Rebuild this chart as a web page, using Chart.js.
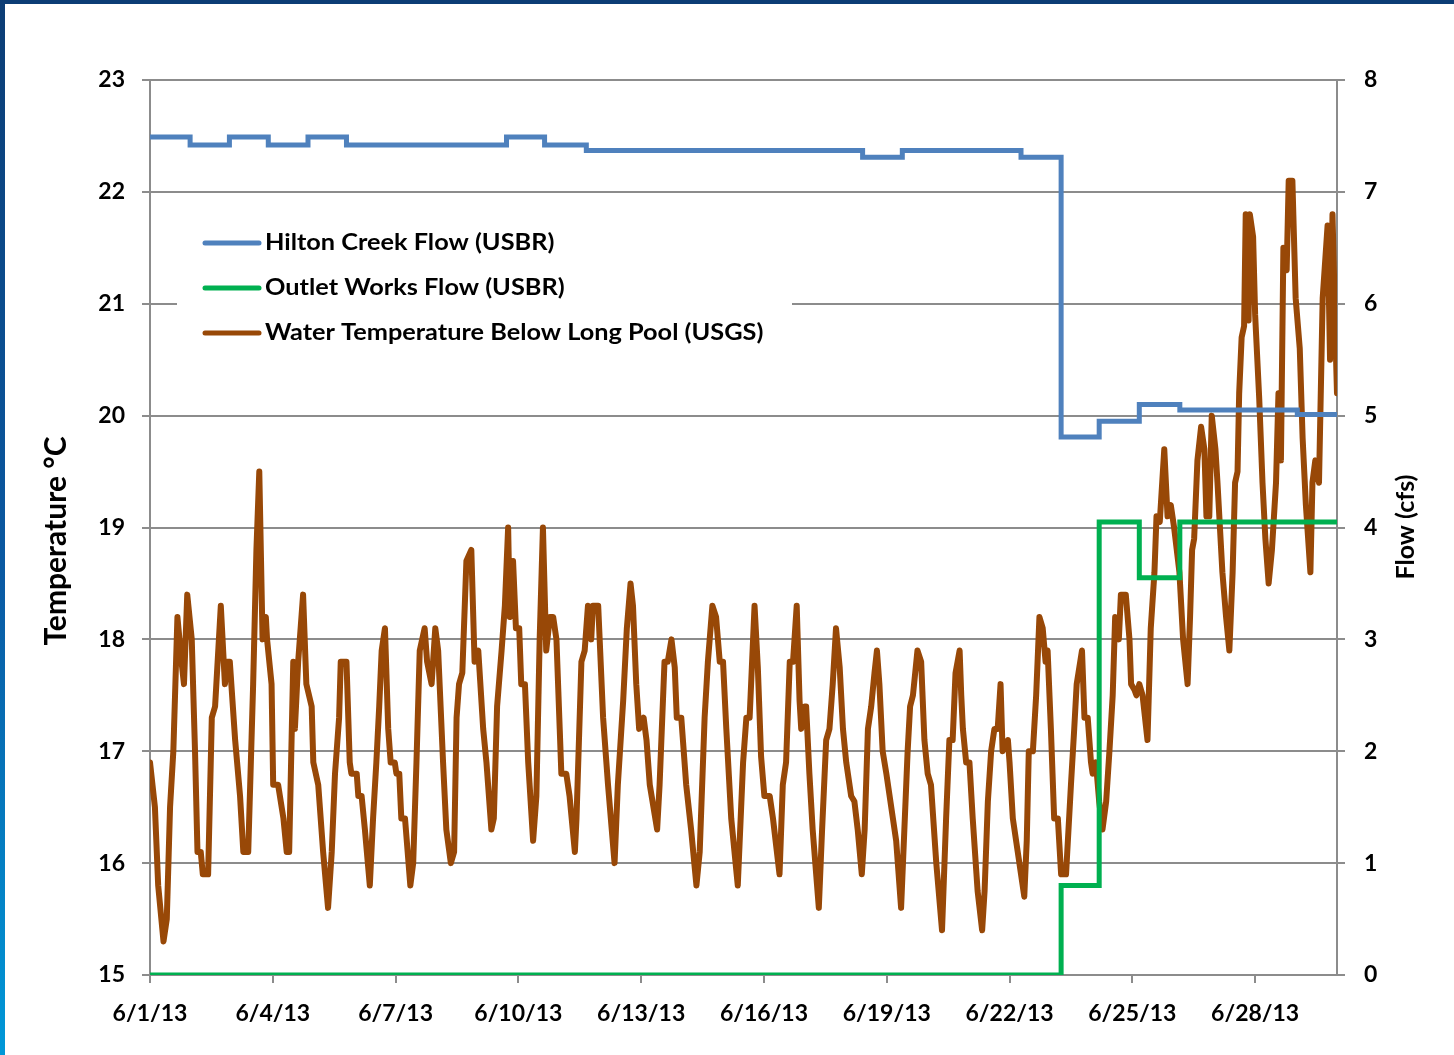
<!DOCTYPE html>
<html>
<head>
<meta charset="utf-8">
<title>Hilton Creek Flow and Water Temperature, June 2013</title>
<script src="https://cdn.jsdelivr.net/npm/chart.js@4.4.0/dist/chart.umd.min.js"></script>
<style>
  html, body { margin: 0; padding: 0; background: #fff; }
  #wrap { position: relative; width: 1454px; height: 1055px; overflow: hidden; }
  #chart1 { position: absolute; left: 0; top: 0; }
  #topbar { position: absolute; left: 0; top: 0; width: 1454px; height: 4px; background: #0c3d75; }
  #leftbar { position: absolute; left: 0; top: 0; width: 5px; height: 1055px;
             background: linear-gradient(to bottom, #0c3d75 0%, #0a5aa3 55%, #0098d8 100%); }
</style>
</head>
<body>
<div id="wrap">
  <canvas id="chart1" width="1454" height="1055"></canvas>
  <div id="topbar"></div>
  <div id="leftbar"></div>
</div>
<script>
// x values are days after 6/1/13 00:00
const xTickDays = [0, 3, 6, 9, 12, 15, 18, 21, 24, 27];
const xTickLabels = ['6/1/13', '6/4/13', '6/7/13', '6/10/13', '6/13/13', '6/16/13', '6/19/13', '6/22/13', '6/25/13', '6/28/13'];

// Hilton Creek Flow (USBR), cfs - value holds until the next change
const hiltonFlow = [
    [0.00, 7.49], [0.98, 7.42], [1.94, 7.49], [2.89, 7.42], [3.86, 7.49], [4.80, 7.42],
    [8.71, 7.49], [9.64, 7.42], [10.66, 7.37], [17.41, 7.31], [18.38, 7.37], [21.28, 7.31],
    [22.26, 4.81], [23.19, 4.95], [24.17, 5.10], [25.16, 5.05], [28.03, 5.01], [29.00, 5.01]
];

// Outlet Works Flow (USBR), cfs
const outletFlow = [
    [0.00, 0], [22.26, 0.80], [23.19, 4.05], [24.17, 3.55], [25.16, 4.05], [29.00, 4.05]
];

// Water Temperature Below Long Pool (USGS), deg C
const tempReadings = [
    [0.00,16.9],[0.12,16.5],[0.20,15.8],[0.33,15.3],[0.41,15.5],[0.49,16.5],[0.57,17.0],[0.67,18.2],[0.77,17.8],[0.83,17.6],
    [0.91,18.4],[1.02,18.0],[1.10,17.0],[1.16,16.1],[1.24,16.1],[1.29,15.9],[1.42,15.9],[1.51,17.3],[1.59,17.4],[1.73,18.3],
    [1.83,17.6],[1.89,17.8],[1.95,17.8],[2.08,17.1],[2.20,16.6],[2.28,16.1],[2.40,16.1],[2.52,17.6],[2.60,18.8],[2.67,19.5],
    [2.75,18.0],[2.83,18.2],[2.86,18.0],[2.97,17.6],[3.01,16.7],[3.13,16.7],[3.26,16.4],[3.34,16.1],[3.40,16.1],[3.50,17.8],
    [3.54,17.2],[3.62,17.8],[3.74,18.4],[3.82,17.6],[3.95,17.4],[3.99,16.9],[4.11,16.7],[4.23,16.1],[4.35,15.6],[4.44,16.1],
    [4.52,16.8],[4.62,17.3],[4.66,17.8],[4.80,17.8],[4.88,16.9],[4.92,16.8],[5.05,16.8],[5.09,16.6],[5.17,16.6],[5.25,16.3],
    [5.37,15.8],[5.45,16.4],[5.53,16.9],[5.60,17.4],[5.66,17.9],[5.74,18.1],[5.82,17.2],[5.88,16.9],[5.98,16.9],[6.02,16.8],
    [6.09,16.8],[6.14,16.4],[6.23,16.4],[6.36,15.8],[6.43,16.0],[6.51,16.9],[6.59,17.9],[6.71,18.1],[6.77,17.8],[6.88,17.6],
    [6.97,18.1],[7.04,17.9],[7.16,16.9],[7.24,16.3],[7.35,16.0],[7.43,16.1],[7.49,17.3],[7.55,17.6],[7.63,17.7],[7.73,18.7],
    [7.85,18.8],[7.93,17.8],[8.02,17.9],[8.14,17.2],[8.22,16.9],[8.34,16.3],[8.40,16.4],[8.48,17.4],[8.59,17.9],[8.67,18.3],
    [8.75,19.0],[8.79,18.2],[8.87,18.7],[8.94,18.1],[9.02,18.1],[9.07,17.6],[9.16,17.6],[9.24,16.9],[9.36,16.2],[9.44,16.6],
    [9.52,18.0],[9.60,19.0],[9.68,17.9],[9.77,18.2],[9.85,18.2],[9.93,18.0],[10.01,17.2],[10.05,16.8],[10.17,16.8],[10.25,16.6],
    [10.38,16.1],[10.42,16.4],[10.54,17.8],[10.62,17.9],[10.70,18.3],[10.78,18.0],[10.82,18.3],[10.95,18.3],[11.07,17.3],[11.19,16.7],
    [11.35,16.0],[11.43,16.7],[11.56,17.45],[11.65,18.1],[11.74,18.5],[11.80,18.3],[11.88,17.6],[11.95,17.2],[12.06,17.3],[12.13,17.1],
    [12.21,16.7],[12.39,16.3],[12.45,16.7],[12.57,17.8],[12.65,17.8],[12.74,18.0],[12.82,17.75],[12.87,17.3],[12.98,17.3],[13.10,16.7],
    [13.22,16.3],[13.35,15.8],[13.43,16.1],[13.55,17.3],[13.63,17.8],[13.74,18.3],[13.83,18.2],[13.92,17.8],[14.00,17.8],[14.08,17.2],
    [14.20,16.4],[14.36,15.8],[14.49,16.9],[14.57,17.3],[14.65,17.3],[14.77,18.3],[14.85,17.75],[14.93,16.95],[15.01,16.6],[15.14,16.6],
    [15.22,16.4],[15.38,15.9],[15.46,16.7],[15.54,16.9],[15.63,17.8],[15.71,17.8],[15.80,18.3],[15.87,17.45],[15.91,17.2],[15.99,17.4],
    [16.03,17.4],[16.11,16.8],[16.19,16.3],[16.34,15.6],[16.42,16.3],[16.52,17.1],[16.60,17.2],[16.68,17.6],[16.76,18.1],[16.85,17.75],
    [16.93,17.2],[17.01,16.9],[17.13,16.6],[17.21,16.55],[17.29,16.3],[17.39,15.9],[17.46,16.3],[17.54,17.2],[17.62,17.4],[17.70,17.7],
    [17.76,17.9],[17.82,17.6],[17.90,17.0],[17.99,16.8],[18.15,16.4],[18.23,16.2],[18.35,15.6],[18.43,16.3],[18.51,17.0],[18.57,17.4],
    [18.64,17.5],[18.75,17.9],[18.84,17.8],[18.92,17.1],[19.00,16.8],[19.08,16.7],[19.21,16.0],[19.35,15.4],[19.45,16.4],[19.53,17.1],
    [19.61,17.1],[19.68,17.7],[19.78,17.9],[19.82,17.5],[19.86,17.2],[19.94,16.9],[20.02,16.9],[20.10,16.4],[20.22,15.75],[20.33,15.4],
    [20.39,15.75],[20.47,16.55],[20.55,17.0],[20.63,17.2],[20.71,17.2],[20.78,17.6],[20.83,17.0],[20.96,17.1],[21.00,16.9],[21.08,16.4],
    [21.20,16.1],[21.36,15.7],[21.42,16.2],[21.47,17.0],[21.57,17.0],[21.65,17.5],[21.73,18.2],[21.81,18.1],[21.88,17.8],[21.93,17.9],
    [22.01,17.2],[22.09,16.4],[22.18,16.4],[22.26,15.9],[22.38,15.9],[22.50,16.7],[22.58,17.2],[22.64,17.6],[22.77,17.9],[22.83,17.3],
    [22.91,17.3],[22.99,16.9],[23.03,16.8],[23.11,16.9],[23.19,16.55],[23.27,16.3],[23.36,16.55],[23.44,17.0],[23.52,17.5],[23.58,18.2],
    [23.67,18.0],[23.72,18.4],[23.84,18.4],[23.93,18.0],[23.97,17.6],[24.05,17.55],[24.10,17.5],[24.17,17.6],[24.25,17.5],[24.37,17.1],
    [24.45,18.1],[24.54,18.6],[24.59,19.1],[24.67,19.05],[24.78,19.7],[24.86,19.1],[24.94,19.2],[25.02,19.0],[25.15,18.6],[25.24,18.0],
    [25.35,17.6],[25.41,18.2],[25.46,18.8],[25.51,18.9],[25.59,19.6],[25.68,19.9],[25.76,19.7],[25.81,19.1],[25.88,19.1],[25.94,20.0],
    [26.03,19.7],[26.08,19.4],[26.20,18.6],[26.29,18.2],[26.37,17.9],[26.45,18.6],[26.51,19.4],[26.57,19.5],[26.61,20.2],[26.67,20.7],
    [26.73,20.8],[26.77,21.8],[26.84,20.85],[26.87,21.8],[26.95,21.6],[27.00,20.9],[27.10,20.15],[27.18,19.4],[27.25,18.9],[27.33,18.5],
    [27.41,18.8],[27.51,19.4],[27.57,20.2],[27.63,19.6],[27.69,21.5],[27.77,21.3],[27.82,22.1],[27.91,22.1],[27.99,21.05],[28.09,20.6],
    [28.16,19.8],[28.24,19.2],[28.35,18.6],[28.40,19.4],[28.47,19.6],[28.56,19.4],[28.65,21.05],[28.77,21.7],[28.83,20.5],[28.89,21.8],
    [28.97,20.6],[29.00,20.2]
];

const gridColor = '#8c8c8c';

function toPoints(pairs) {
    return pairs.map(p => ({x: p[0], y: p[1]}));
}

// legend sits inside the plot on a white box, like the Excel original
const insideLegend = {
    id: 'insideLegend',
    afterDatasetsDraw(chart) {
        const ctx = chart.ctx;
        ctx.save();
        ctx.fillStyle = '#ffffff';
        ctx.fillRect(177, 208, 615, 150);
        chart.data.datasets.forEach((ds, i) => {
            const y = 243 + i * 45;
            ctx.strokeStyle = ds.borderColor;
            ctx.lineWidth = 5;
            ctx.lineCap = 'round';
            ctx.beginPath();
            ctx.moveTo(205, y);
            ctx.lineTo(259, y);
            ctx.stroke();

            // the source text is a little wider than Lato, stretch it
            ctx.save();
            ctx.translate(265, y);
            ctx.scale(1.15, 1);
            ctx.fillStyle = '#000';
            ctx.font = 'bold 22px Lato';
            ctx.textAlign = 'left';
            ctx.textBaseline = 'middle';
            ctx.fillText(ds.label, 0, 0);
            ctx.restore();
        });
        ctx.restore();
    }
};

// both axis titles read bottom-to-top
function drawRotated(ctx, text, x, y, font) {
    ctx.save();
    ctx.fillStyle = '#000';
    ctx.textAlign = 'center';
    ctx.textBaseline = 'middle';
    ctx.font = font;
    ctx.translate(x, y);
    ctx.rotate(-Math.PI / 2);
    ctx.fillText(text, 0, 0);
    ctx.restore();
}

const axisTitles = {
    id: 'axisTitles',
    afterDraw(chart) {
        drawRotated(chart.ctx, 'Temperature °C', 56, 541, 'bold 30px Lato');
        drawRotated(chart.ctx, 'Flow (cfs)', 1406, 527, 'bold 25px Lato');
    }
};

Chart.defaults.font.family = 'Lato';
Chart.defaults.color = '#000';

const ctx1 = document.getElementById('chart1');

const chart1 = new Chart(ctx1, {
    type: 'line',
    data: {
        datasets: [{
            label: 'Hilton Creek Flow (USBR)',
            data: toPoints(hiltonFlow),
            yAxisID: 'yFlow',
            borderColor: '#4f81bd',
            borderWidth: 5,
            stepped: true,
            pointRadius: 0,
            order: 2
        }, {
            label: 'Outlet Works Flow (USBR)',
            data: toPoints(outletFlow),
            yAxisID: 'yFlow',
            borderColor: '#00b050',
            borderWidth: 5,
            stepped: true,
            pointRadius: 0,
            order: 1
        }, {
            label: 'Water Temperature Below Long Pool (USGS)',
            data: toPoints(tempReadings),
            yAxisID: 'yTemp',
            borderColor: '#984807',
            borderWidth: 6,
            borderJoinStyle: 'round',
            borderCapStyle: 'round',
            tension: 0,
            pointRadius: 0,
            order: 3
        }]
    },
    options: {
        responsive: false,
        animation: false,
        devicePixelRatio: 1,
        layout: {
            padding: {top: 80, left: 0, right: 0, bottom: 0}
        },
        plugins: {
            legend: {display: false},
            tooltip: {enabled: false}
        },
        scales: {
            x: {
                type: 'linear',
                min: 0,
                max: 29,
                afterBuildTicks: (scale) => {
                    scale.ticks = xTickDays.map(v => ({value: v}));
                },
                afterFit: (scale) => { scale.height = 80; },
                ticks: {
                    autoSkip: false,
                    maxRotation: 0,
                    padding: 17,
                    font: {size: 23, weight: 'bold'},
                    callback: (v) => {
                        const i = xTickDays.indexOf(v);
                        return i >= 0 ? xTickLabels[i] : '';
                    }
                },
                grid: {drawOnChartArea: false, tickLength: 8, color: gridColor, lineWidth: 2},
                border: {color: gridColor, width: 2}
            },
            yTemp: {
                position: 'left',
                min: 15,
                max: 23,
                afterFit: (scale) => { scale.width = 150; },
                ticks: {stepSize: 1, padding: 17, font: {size: 23, weight: 'bold'}},
                grid: {tickLength: 8, color: gridColor, lineWidth: 2},
                border: {color: gridColor, width: 2}
            },
            yFlow: {
                position: 'right',
                min: 0,
                max: 8,
                afterFit: (scale) => { scale.width = 117; },
                ticks: {stepSize: 1, padding: 19, font: {size: 23, weight: 'bold'}},
                grid: {drawOnChartArea: false, tickLength: 8, color: gridColor, lineWidth: 2},
                border: {color: gridColor, width: 2}
            }
        }
    },
    plugins: [insideLegend, axisTitles]
});
</script>
</body>
</html>
